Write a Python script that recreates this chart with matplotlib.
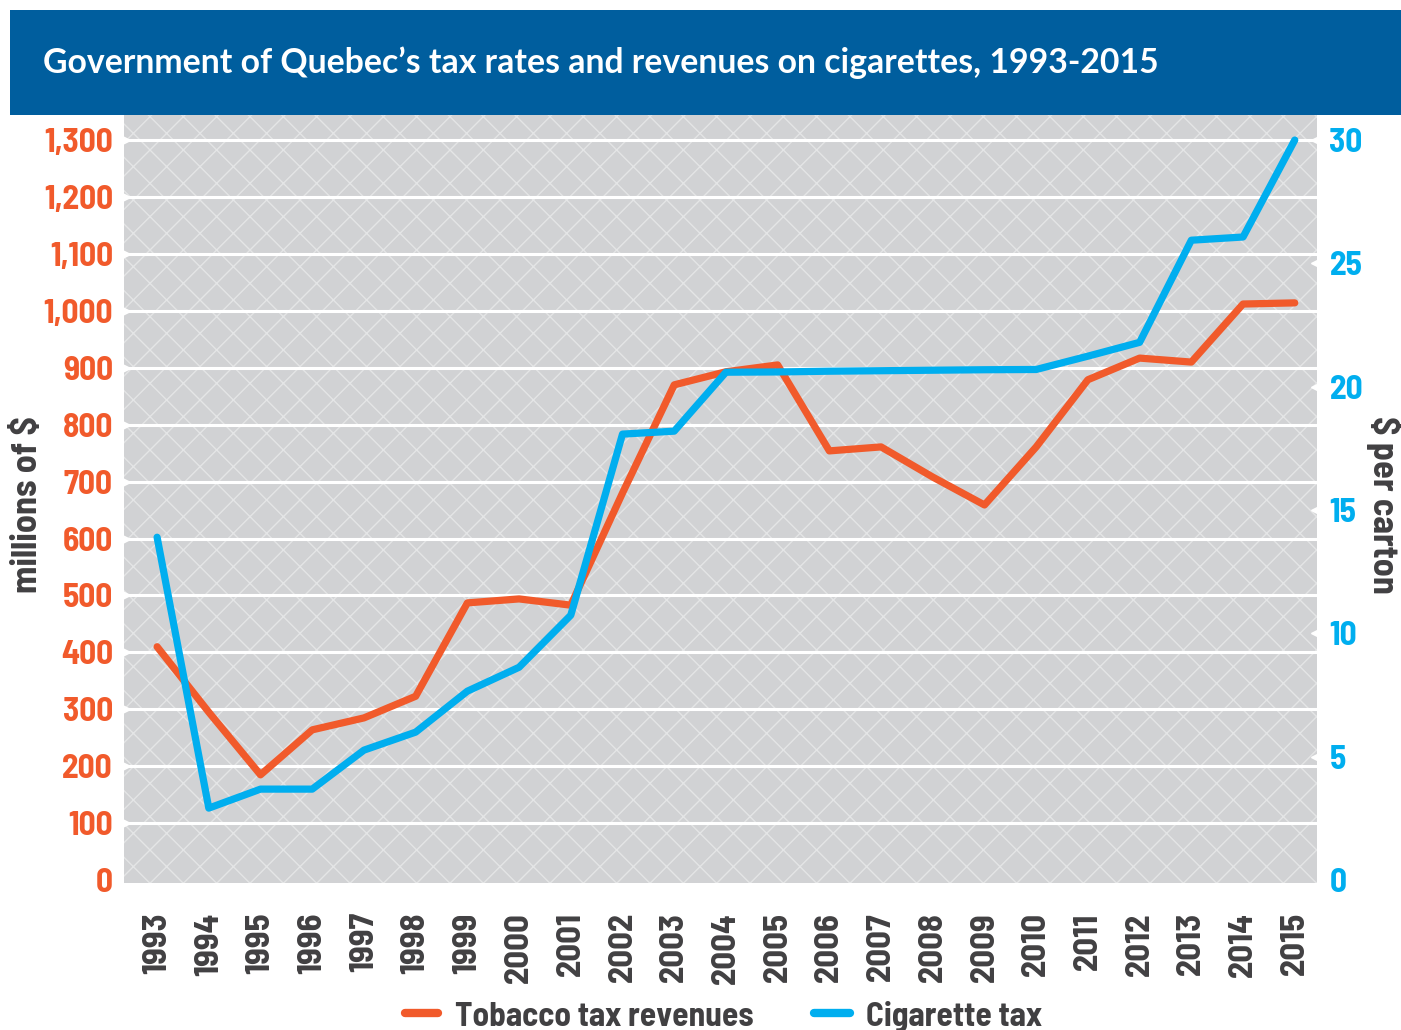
import matplotlib
matplotlib.use("Agg")
import matplotlib.pyplot as plt
from matplotlib.patches import Rectangle
from matplotlib.lines import Line2D
import logging
logging.getLogger("matplotlib.font_manager").setLevel(logging.ERROR)

years = list(range(1993, 2016))
revenues = [410, 295, 185, 264, 285, 323, 487, 494, 483, 680, 870, 893, 905,
            754, 761, 708, 659, 761, 879, 917, 910, 1012, 1014]
cig_tax = [13.9, 2.92, 3.69, 3.69, 5.27, 6.0, 7.66, 8.63, 10.74, 18.08, 18.2,
           20.59, 20.6, 20.63, 20.65, 20.67, 20.69, 20.7, 21.24, 21.8, 25.94,
           26.07, 30.0]
left_ticks = list(range(0, 1301, 100))
right_ticks = [0, 5, 10, 15, 20, 25, 30]

title = "Government of Quebec\u2019s tax rates and revenues on cigarettes, 1993-2015"
left_label = "millions of $"
right_label = "$ per carton"
legend_labels = ["Tobacco tax revenues", "Cigarette tax"]

ORANGE = "#F15A2B"
BLUE = "#00AEEF"
NAVY = "#005E9E"
GREY = "#D1D2D4"
TEXT = "#414042"
NARROW = ["Barlow Semi Condensed", "Roboto Condensed", "Asap Condensed", "DejaVu Sans"]
TITLEF = ["Lato", "DejaVu Sans"]

W, H = 1401, 1030
fig = plt.figure(figsize=(W / 100, H / 100), dpi=100)

def fx(px):
    return px / W

def fy(py):
    return 1 - py / H

ax_l, ax_r, ax_t, ax_b = 124, 1317, 115, 883
ax = fig.add_axes([fx(ax_l), fy(ax_b), fx(ax_r - ax_l), (ax_b - ax_t) / H])
ax.set_facecolor(GREY)
ymin, ymax = -5, 1344
ax.set_ylim(ymin, ymax)
ax.set_xlim(1992.36, 2015.43)

plt.rcParams['hatch.linewidth'] = 1.0
hatch = Rectangle((0, 0), 1, 1, transform=ax.transAxes, facecolor="none",
                  edgecolor="#E4E5E6", hatch="x", linewidth=0, zorder=0.5)
ax.add_patch(hatch)

for v in left_ticks[1:]:
    ax.axhline(v, color="white", lw=2.2, zorder=1)

ax.plot(years, revenues, color=ORANGE, lw=5.2, solid_capstyle="round",
        solid_joinstyle="round", zorder=3)

for s in ax.spines.values():
    s.set_visible(False)
ax.set_yticks(left_ticks)
ax.set_yticklabels([f"{v:,}" for v in left_ticks])
ax.tick_params(axis="y", length=0, pad=8, labelsize=24, labelcolor=ORANGE)
for lab in ax.get_yticklabels():
    lab.set_fontfamily(NARROW)
    lab.set_fontweight("bold")
ax.set_xticks(years)
ax.set_xticklabels([str(y) for y in years], rotation=90)
ax.tick_params(axis="x", length=0, pad=21, labelsize=25, labelcolor=TEXT)
for lab in ax.get_xticklabels():
    lab.set_fontfamily(NARROW)
    lab.set_fontweight("bold")

# notches at left edge
xl = ax.get_xlim()[0]
ax.plot([xl] * (len(left_ticks) - 1), left_ticks[1:], linestyle="none",
        marker=">", color="white", markersize=9, clip_on=False, zorder=4)

ax2 = ax.twinx()
scale = 30 / 1300
ax2.set_ylim(ymin * scale, ymax * scale)
ax2.plot(years, cig_tax, color=BLUE, lw=5.2, solid_capstyle="round",
         solid_joinstyle="round", zorder=3)
for s in ax2.spines.values():
    s.set_visible(False)
ax2.set_yticks(right_ticks)
ax2.set_yticklabels([str(v) for v in right_ticks])
ax2.tick_params(axis="y", length=0, pad=9, labelsize=24, labelcolor=BLUE)
for lab in ax2.get_yticklabels():
    lab.set_fontfamily(NARROW)
    lab.set_fontweight("bold")
xr = ax.get_xlim()[1]
ax2.plot([xr] * (len(right_ticks) - 1), right_ticks[1:], linestyle="none",
         marker="<", color="white", markersize=9, clip_on=False, zorder=4)
ax2.set_xlim(ax.get_xlim())

# banner
fig.add_artist(Rectangle((fx(10), fy(115)), 1 - fx(10), (115 - 10) / H,
                         transform=fig.transFigure, facecolor=NAVY,
                         edgecolor="none", zorder=5))
fig.text(fx(43), fy(63), title, color="white", fontsize=24.3, family=TITLEF,
         fontweight="bold", va="center", ha="left", zorder=6)

fig.text(fx(28), fy(505), left_label, rotation=90, color=TEXT, fontsize=26,
         family=NARROW, fontweight="bold", ha="center", va="center")
fig.text(fx(1384), fy(505), right_label, rotation=270, color=TEXT, fontsize=26,
         family=NARROW, fontweight="bold", ha="center", va="center")

# legend
for (x0, x1, tx), col, lab in zip([(405, 438, 455), (814, 850, 866)],
                                  [ORANGE, BLUE], legend_labels):
    fig.add_artist(Line2D([fx(x0), fx(x1)], [fy(1013), fy(1013)],
                          transform=fig.transFigure, color=col, lw=6,
                          solid_capstyle="round"))
    fig.text(fx(tx), fy(1026), lab, color=TEXT, fontsize=24, family=NARROW,
             fontweight="bold", ha="left", va="baseline")

fig.savefig("out.png", dpi=100)
